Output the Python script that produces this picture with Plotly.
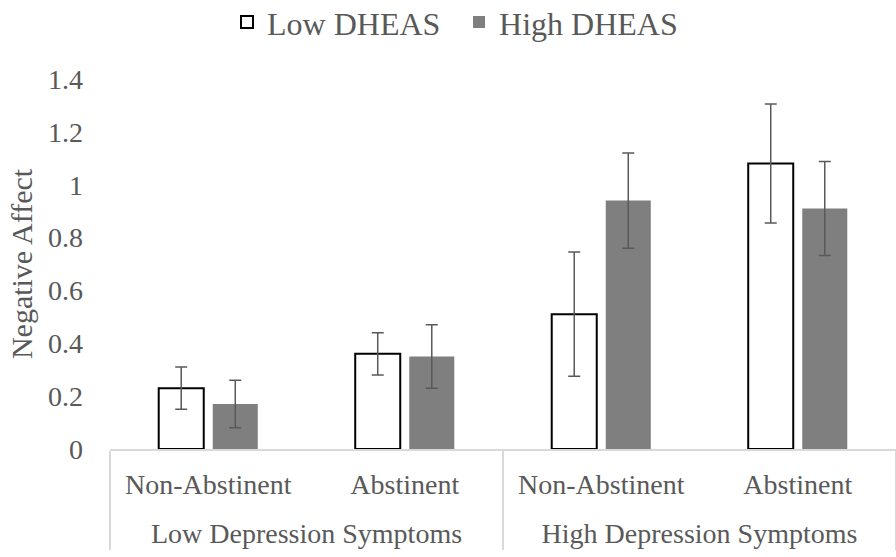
import plotly.graph_objects as go

groups = ["Low Depression Symptoms", "Low Depression Symptoms",
          "High Depression Symptoms", "High Depression Symptoms"]
conditions = ["Non-Abstinent", "Abstinent", "Non-Abstinent", "Abstinent"]

low_dheas = [0.23, 0.36, 0.51, 1.08]
low_dheas_err = [0.08, 0.08, 0.235, 0.225]
high_dheas = [0.17, 0.35, 0.94, 0.91]
high_dheas_err = [0.09, 0.12, 0.18, 0.178]

y_ticks = [0, 0.2, 0.4, 0.6, 0.8, 1.0, 1.2, 1.4]
y_tick_text = ["0", "0.2", "0.4", "0.6", "0.8", "1", "1.2", "1.4"]

FONT = "Liberation Serif"
TXT = "#595959"

# tall invisible spacers around the first-level labels so that the group
# labels sit further below them, as in the reference
SP = "<span style='font-size:52px'>&nbsp;</span>"
cond_labels = [SP + c + SP for c in conditions]

fig = go.Figure()
fig.add_trace(go.Bar(
    name="Low DHEAS", x=[groups, cond_labels], y=low_dheas,
    marker=dict(color="white", line=dict(color="black", width=2)),
    error_y=dict(type="data", array=low_dheas_err, color="#595959",
                 thickness=1.5, width=6),
))
fig.add_trace(go.Bar(
    name="High DHEAS", x=[groups, cond_labels], y=high_dheas,
    marker=dict(color="#7f7f7f", line=dict(color="#7f7f7f", width=0)),
    error_y=dict(type="data", array=high_dheas_err, color="#595959",
                 thickness=1.5, width=6),
))

fig.update_layout(
    width=896, height=557,
    margin=dict(l=110, r=0, t=79, b=108, autoexpand=False),
    paper_bgcolor="white", plot_bgcolor="white",
    barmode="group", bargap=0.45, bargroupgap=0.167,
    font=dict(family=FONT, size=28, color=TXT),
    showlegend=True,
    legend=dict(orientation="h", xref="container", yref="container",
                x=0.5123, xanchor="center", y=0.96, yanchor="middle",
                font=dict(family=FONT, size=32, color=TXT),
                itemwidth=30, entrywidth=187, traceorder="normal"),
    xaxis=dict(type="multicategory", showline=True, linecolor="#d9d9d9",
               linewidth=1.5, showgrid=False, ticks="", automargin=False,
               showdividers=True, dividercolor="#d9d9d9", dividerwidth=1.5,
               ticklabelstandoff=10, tickangle=0,
               tickfont=dict(family=FONT, size=28, color=TXT)),
    yaxis=dict(range=[0, 1.4], tickvals=y_ticks, ticktext=y_tick_text,
               showgrid=False, showline=False, zeroline=False, automargin=False,
               ticks="", ticklabelstandoff=26,
               tickfont=dict(family=FONT, size=28, color=TXT),
               title=dict(text="Negative Affect", standoff=6,
                          font=dict(family=FONT, size=30, color=TXT))),
)

fig.write_html("out.html", config={"displayModeBar": False},
               post_script="document.body.style.margin='0';")
